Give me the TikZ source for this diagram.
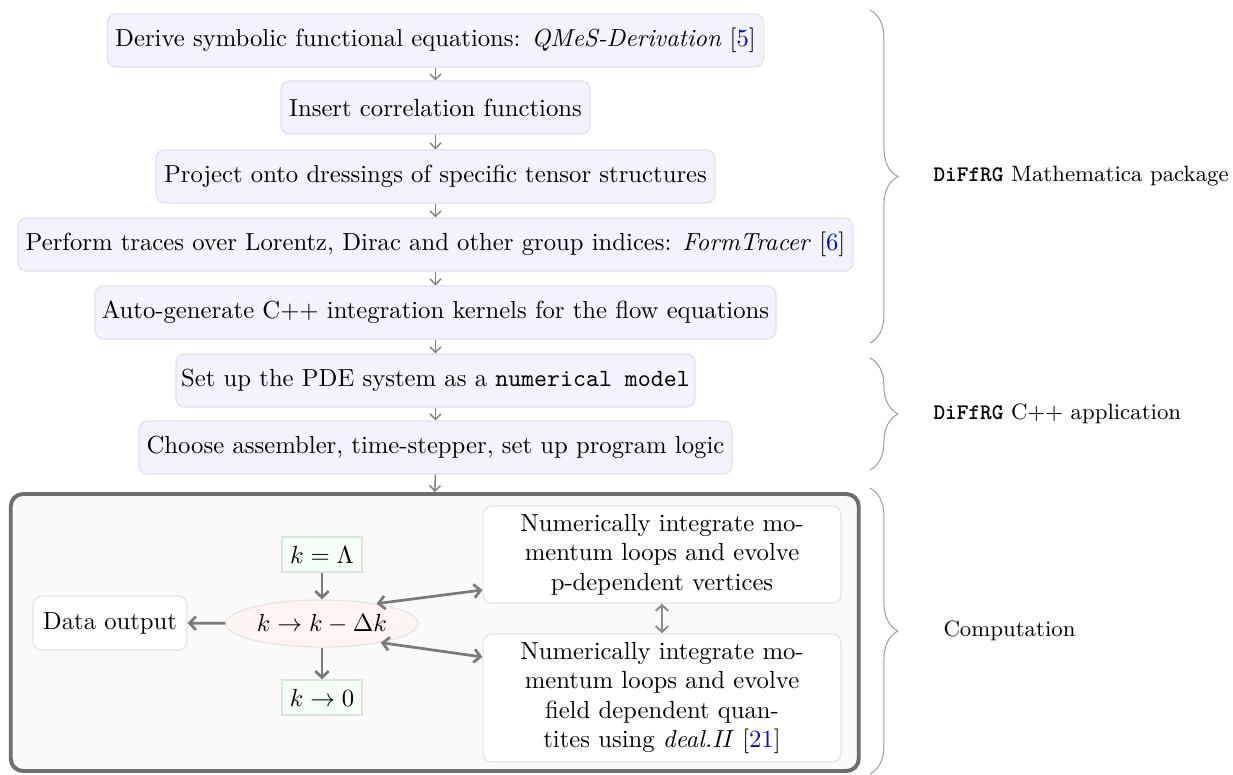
\documentclass[tikz,border=0pt]{standalone}
\usetikzlibrary{arrows.meta,shapes.geometric,decorations.pathreplacing}
\definecolor{stepfill}{RGB}{243,243,253}
\definecolor{stepline}{RGB}{226,226,232}
\definecolor{citeblue}{RGB}{0,0,255}
\newcommand{\U}{0.405pt}
\newcommand{\cit}[1]{[\textcolor{citeblue}{#1}]}
\tikzset{
  stepbox/.style={draw=stepline, fill=stepfill, rounded corners=3.5pt, line width=0.5pt,
    minimum height=53*\U, inner sep=0pt, font=\normalsize},
  innerbox/.style={draw=black!10, fill=white, rounded corners=3.5pt, line width=0.5pt,
    inner sep=0pt, align=center},
  kbox/.style={draw=green!10!black!12, fill=green!4, line width=0.5pt, inner sep=0pt,
    minimum width=80*\U, minimum height=35*\U},
  kell/.style={ellipse, draw=red!10!black!10, fill=red!4, line width=0.5pt, inner sep=0pt,
    minimum width=192*\U, minimum height=47*\U},
  flow/.style={draw=black!50, line width=0.6pt, -{Straight Barb[length=2.2pt,width=4.4pt]}},
  loopar/.style={draw=black!52, line width=1.1pt, -{Straight Barb[length=2.6pt,width=5.4pt]}},
  twoway/.style={draw=black!52, line width=1.1pt, {Straight Barb[length=2.6pt,width=5.4pt]}-{Straight Barb[length=2.6pt,width=5.4pt]}},
  vtwoway/.style={draw=black!45, line width=0.8pt, {Straight Barb[length=2.4pt,width=5pt]}-{Straight Barb[length=2.4pt,width=5pt]}},
  groupbrace/.style={draw=black!40, line width=0.4pt, decorate,
    decoration={brace, amplitude=11.3pt}},
  grouplabel/.style={anchor=west, inner sep=0pt, font=\small},
}
\begin{document}
\begin{tikzpicture}[x=\U, y=-\U]
\useasboundingbox (0,0) rectangle (1233,774);

% Mathematica part of the pipeline
\node[stepbox, minimum width=656*\U] (s1) at (435.5,40.5)
  {Derive symbolic functional equations: \textit{QMeS-Derivation} \cit{5}};
\node[stepbox, minimum width=309*\U] (s2) at (435.5,107.5)
  {Insert correlation functions};
\node[stepbox, minimum width=559*\U] (s3) at (435.5,176.5)
  {Project onto dressings of specific tensor structures};
\node[stepbox, minimum width=835*\U] (s4) at (435.5,244.5)
  {Perform traces over Lorentz, Dirac and other group indices: \textit{FormTracer} \cit{6}};
\node[stepbox, minimum width=681*\U] (s5) at (435.5,312.5)
  {Auto-generate C++ integration kernels for the flow equations};

% C++ application part
\node[stepbox, minimum width=519*\U] (s6) at (435.5,380.5)
  {Set up the PDE system as a \texttt{numerical model}};
\node[stepbox, minimum width=593*\U] (s7) at (435.5,447.5)
  {Choose assembler, time-stepper, set up program logic};

% Computation frame
\node[draw=black!57, fill=black!2, line width=1.6pt, rounded corners=5pt,
  minimum width=848*\U, minimum height=277*\U, inner sep=0pt] (comp) at (434.75,632.5) {};

\foreach \a/\b in {s1/s2, s2/s3, s3/s4, s4/s5, s5/s6, s6/s7, s7/comp}
  \draw[flow] (\a.south) -- (\b.north);

% Inside the computation frame
\node[kbox] (kL) at (322,554.5) {$k = \Lambda$};
\node[kell] (kstep) at (322,623.5) {$k \to k - \Delta k$};
\node[kbox] (k0) at (322,697.5) {$k \to 0$};
\node[innerbox, minimum width=154*\U, minimum height=54*\U] (out) at (110,623)
  {Data output};
\node[innerbox, minimum width=358*\U, minimum height=97*\U] (pdep) at (662,554.5)
  {Numerically integrate mo-\\mentum loops and evolve\\p-dependent vertices};
\node[innerbox, minimum width=358*\U, minimum height=128*\U] (fdep) at (662,698)
  {Numerically integrate mo-\\mentum loops and evolve\\field dependent quan-\\tites using \textit{deal.II} \cit{21}};

\draw[loopar] (kL) -- (kstep);
\draw[loopar] (kstep) -- (k0);
\draw[loopar] (kstep) -- (out);
\draw[twoway] (kstep.20) -- (pdep.west |- 0,590);
\draw[twoway] (kstep.-18) -- (fdep.west |- 0,657);
\draw[vtwoway] (pdep) -- (fdep);

% Group braces and their labels
\coordinate (b1t) at (870,10);  \coordinate (b1b) at (870,343);
\coordinate (b2t) at (870,358); \coordinate (b2b) at (870,470);
\coordinate (b3t) at (870,488); \coordinate (b3b) at (870,774);
\draw[groupbrace] (b1t) -- (b1b);
\draw[groupbrace] (b2t) -- (b2b);
\draw[groupbrace] (b3t) -- (b3b);
\node[grouplabel] (g1) at (933,176.5) {\texttt{\bfseries DiFfRG} Mathematica package};
\node[grouplabel] (g2) at (933,414) {\texttt{\bfseries DiFfRG} C++ application};
\node[grouplabel] (g3) at (943,631) {Computation};
\end{tikzpicture}
\end{document}
